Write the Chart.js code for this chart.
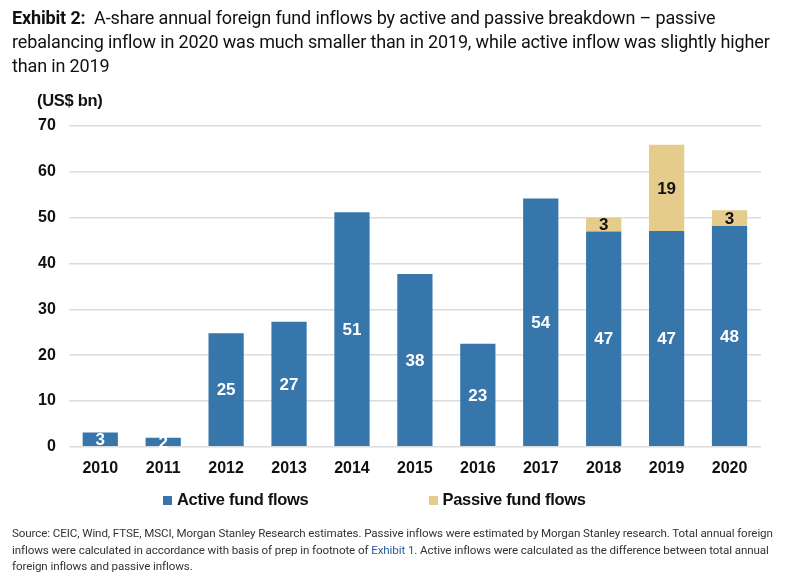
<!DOCTYPE html>
<html>
<head>
<meta charset="utf-8">
<script src="https://cdn.jsdelivr.net/npm/chart.js@4.4.0/dist/chart.umd.min.js"></script>
<style>
  body { margin: 0; background: #fff; width: 800px; height: 585px; overflow: hidden; position: relative; }
  .title { position: absolute; left: 12px; top: 6px; width: 778px; font-family: "Roboto", sans-serif; font-size: 18px; line-height: 24px; color: #111; letter-spacing: -0.15px; }
  .unit { position: absolute; left: 37px; top: 91px; font-family: "Liberation Sans", Arial, sans-serif; font-weight: bold; font-size: 16.5px; color: #111; letter-spacing: -0.3px; }
  .note { position: absolute; left: 12px; top: 525px; width: 780px; font-family: "Roboto", sans-serif; font-size: 11.6px; line-height: 16.5px; color: #333; letter-spacing: -0.1px; }
  .note span { color: #2c5aa0; }
  #wrap { position: absolute; left: 0; top: 0; width: 800px; height: 585px; }
  #legend { position: absolute; left: 163px; top: 490px; display: flex; font-family: "Liberation Sans", Arial, sans-serif; font-weight: bold; font-size: 16.5px; color: #111; letter-spacing: -0.3px; }
  #legend .item { display: flex; align-items: center; }
  #legend .item + .item { margin-left: 120px; }
  #legend .box { width: 9px; height: 9px; margin-right: 5px; margin-top: 2px; }
</style>
</head>
<body>
<div id="wrap"><canvas id="chart"></canvas></div>
<div class="title"><b>Exhibit 2:</b>&nbsp; A-share annual foreign fund inflows by active and passive breakdown – passive rebalancing inflow in 2020 was much smaller than in 2019, while active inflow was slightly higher than in 2019</div>
<div class="unit">(US$ bn)</div>
<div id="legend"></div>
<div class="note">Source: CEIC, Wind, FTSE, MSCI, Morgan Stanley Research estimates. Passive inflows were estimated by Morgan Stanley research. Total annual foreign inflows were calculated in accordance with basis of prep in footnote of <span>Exhibit 1</span>. Active inflows were calculated as the difference between total annual foreign inflows and passive inflows.</div>
<script>
const years = ['2010', '2011', '2012', '2013', '2014', '2015', '2016', '2017', '2018', '2019', '2020'];
const activeFlows = [3.1, 2.0, 24.8, 27.3, 51.2, 37.7, 22.5, 54.2, 47.0, 47.1, 48.2];
const passiveFlows = [null, null, null, null, null, null, null, null, 3.0, 18.8, 3.4];

// numbers in the middle of each bar segment
const barLabels = {
  id: 'barLabels',
  afterDatasetsDraw(chart) {
    const ctx = chart.ctx;
    ctx.save();
    ctx.font = 'bold 17px "Liberation Sans", Arial, sans-serif';
    ctx.textAlign = 'center';
    ctx.textBaseline = 'middle';
    chart.data.datasets.forEach((ds, i) => {
      chart.getDatasetMeta(i).data.forEach((bar, j) => {
        const v = ds.data[j];
        if (v == null) return;
        ctx.fillStyle = i === 0 ? '#ffffff' : '#111111';
        ctx.fillText(Math.round(v), bar.x, (bar.y + bar.base) / 2 + 1);
      });
    });
    ctx.restore();
  }
};

// legend built from the chart's own legend items
const htmlLegend = {
  id: 'htmlLegend',
  afterUpdate(chart) {
    const $legend = document.getElementById('legend');
    $legend.innerHTML = '';
    chart.options.plugins.legend.labels.generateLabels(chart).forEach(item => {
      const $item = document.createElement('div');
      $item.className = 'item';
      const $box = document.createElement('span');
      $box.className = 'box';
      $box.style.background = item.fillStyle;
      $item.appendChild($box);
      $item.appendChild(document.createTextNode(item.text));
      $legend.appendChild($item);
    });
  }
};

new Chart(document.getElementById('chart'), {
  type: 'bar',
  data: {
    labels: years,
    datasets: [{
      label: 'Active fund flows',
      data: activeFlows,
      backgroundColor: '#3776ab',
      barPercentage: 0.56,
      categoryPercentage: 1
    }, {
      label: 'Passive fund flows',
      data: passiveFlows,
      backgroundColor: '#e5cb8c',
      barPercentage: 0.56,
      categoryPercentage: 1
    }]
  },
  options: {
    responsive: true,
    maintainAspectRatio: false,
    animation: false,
    layout: {
      padding: { top: 126, left: 25, right: 39, bottom: 103 }
    },
    scales: {
      x: {
        stacked: true,
        grid: { display: false },
        border: { display: false },
        ticks: {
          color: '#111',
          font: { family: '"Liberation Sans", Arial, sans-serif', size: 16, weight: 'bold' },
          padding: 4
        }
      },
      y: {
        stacked: true,
        min: 0,
        max: 70,
        ticks: {
          stepSize: 10,
          color: '#111',
          font: { family: '"Liberation Sans", Arial, sans-serif', size: 16, weight: 'bold' },
          padding: 13
        },
        grid: { color: '#dcdcdc', lineWidth: 1.5, drawTicks: false },
        border: { display: false }
      }
    },
    plugins: {
      legend: { display: false },
      tooltip: { enabled: false }
    }
  },
  plugins: [barLabels, htmlLegend]
});
</script>
</body>
</html>
